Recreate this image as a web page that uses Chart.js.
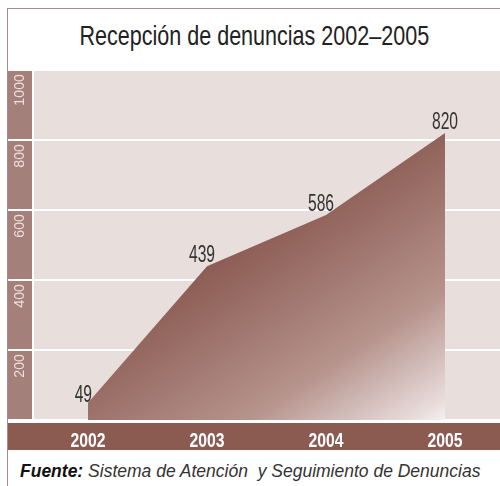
<!DOCTYPE html>
<html>
<head>
<meta charset="utf-8">
<script src="https://cdn.jsdelivr.net/npm/chart.js@4.4.0/dist/chart.umd.min.js"></script>
<style>
  body { margin: 0; background: #fff; width: 500px; height: 486px; overflow: hidden; position: relative; font-family: 'Liberation Sans', Arial, sans-serif; }
  #marco { position: absolute; left: 7px; top: 8px; width: 493px; height: 478px; border-left: 1px solid #a88e88; border-top: 1px solid #a88e88; }
  #titulo { position: absolute; left: 8px; top: 9px; width: 492px; height: 54px; line-height: 54px; text-align: center; font-size: 28px; color: #222; }
  #titulo span { display: inline-block; transform-origin: 50% 50%; white-space: nowrap; }
  #caja { position: absolute; left: 8px; top: 60px; width: 492px; height: 390px; }
  #fuente { position: absolute; left: 20px; top: 461px; font-size: 17.5px; font-style: italic; color: #333; white-space: pre; }
  #fuente b { color: #111; }
</style>
</head>
<body>
<div id="marco"></div>
<div id="titulo"><span id="tituloTexto">Recepción de denuncias 2002–2005</span></div>
<div id="caja"><canvas id="grafico" width="492" height="390"></canvas></div>
<div id="fuente"><b>Fuente:</b> Sistema de Atención  y Seguimiento de Denuncias</div>

<script>
// Datos
const anos = [2002, 2003, 2004, 2005];
const denuncias = [49, 439, 586, 820];
const marcasY = [200, 400, 600, 800, 1000];

// título en letra condensada: se comprime horizontalmente
const spanTitulo = document.getElementById('tituloTexto');
spanTitulo.style.transform = 'scaleX(' + (350 / spanTitulo.offsetWidth) + ')';

// texto comprimido en el canvas
function textoAngosto(ctx, texto, x, y, escala, alinear) {
    ctx.save();
    ctx.translate(x, y);
    ctx.scale(escala, 1);
    ctx.textAlign = alinear;
    ctx.fillText(texto, 0, 0);
    ctx.restore();
}

// Fondo del área, banda izquierda y banda inferior + etiquetas
const decoracion = {
    id: 'decoracion',
    beforeDraw(chart) {
        const { ctx, chartArea: a } = chart;
        ctx.save();
        ctx.fillStyle = '#e8dedb';
        ctx.fillRect(a.left, a.top, a.right - a.left, a.bottom - a.top);
        ctx.fillStyle = '#a57f79';
        ctx.fillRect(0, a.top, a.left - 2, a.bottom - a.top);
        ctx.fillStyle = '#8b5a51';
        ctx.fillRect(0, a.bottom + 3, chart.width, chart.height - a.bottom - 3);
        ctx.restore();
    },
    afterDatasetsDraw(chart) {
        const { ctx } = chart;
        const puntos = chart.getDatasetMeta(0).data;
        ctx.save();
        ctx.fillStyle = '#333';
        ctx.font = '23px "Liberation Sans", Arial, sans-serif';
        ctx.textBaseline = 'alphabetic';
        puntos.forEach((p, i) => {
            const texto = String(denuncias[i]);
            if (i === 0) {
                textoAngosto(ctx, texto, p.x + 4, p.y - 1, 0.68, 'right');
            } else if (i === puntos.length - 1) {
                textoAngosto(ctx, texto, p.x, p.y - 4, 0.68, 'center');
            } else {
                textoAngosto(ctx, texto, p.x - 5, p.y - 4, 0.68, 'center');
            }
        });
        ctx.restore();
    },
    afterDraw(chart) {
        const { ctx, chartArea: a, scales: { x, y } } = chart;
        ctx.save();
        // etiquetas del eje y, giradas
        ctx.fillStyle = '#ecdfdc';
        ctx.font = '15px "Liberation Sans", Arial, sans-serif';
        ctx.textBaseline = 'middle';
        marcasY.forEach(v => {
            ctx.save();
            ctx.translate(12, y.getPixelForValue(v) + 4);
            ctx.rotate(-Math.PI / 2);
            textoAngosto(ctx, String(v), 0, 0, 0.95, 'right');
            ctx.restore();
        });
        // etiquetas del eje x
        ctx.fillStyle = '#fff';
        ctx.font = 'bold 21px "Liberation Sans", Arial, sans-serif';
        ctx.textBaseline = 'alphabetic';
        anos.forEach(v => {
            textoAngosto(ctx, String(v), x.getPixelForValue(v), a.bottom + 27, 0.75, 'center');
        });
        ctx.restore();
    }
};

function degradado(context) {
    const chart = context.chart;
    const a = chart.chartArea;
    if (!a) return '#8b5a51';
    const x = chart.scales.x, y = chart.scales.y;
    const x1 = x.getPixelForValue(anos[anos.length - 1]);
    const y1 = y.getPixelForValue(0);
    const g = chart.ctx.createLinearGradient(x1 - 145, y1 - 222, x1, y1);
    g.addColorStop(0, '#8a5a51');
    g.addColorStop(0.26, '#9d736b');
    g.addColorStop(0.59, '#b6938c');
    g.addColorStop(0.93, '#e8dcdb');
    g.addColorStop(1, '#f6f1f1');
    return g;
}

new Chart(document.getElementById('grafico'), {
    type: 'line',
    data: {
        datasets: [{
            data: anos.map((a, i) => ({ x: a, y: denuncias[i] })),
            fill: 'origin',
            backgroundColor: degradado,
            borderWidth: 0,
            pointRadius: 0,
            tension: 0
        }]
    },
    options: {
        responsive: false,
        devicePixelRatio: 1,
        animation: false,
        layout: { padding: { top: 10, left: 0, right: 0, bottom: 0 } },
        plugins: { legend: { display: false }, tooltip: { enabled: false } },
        scales: {
            x: {
                type: 'linear',
                min: 2001.546,
                max: 2005.462,
                afterBuildTicks(scale) { scale.ticks = anos.map(v => ({ value: v })); },
                afterFit(scale) { scale.height = 30; },
                grid: { display: false, drawTicks: false },
                border: { display: false },
                ticks: { display: false }
            },
            y: {
                min: 0,
                max: 1000,
                afterBuildTicks(scale) { scale.ticks = [0].concat(marcasY).map(v => ({ value: v })); },
                afterFit(scale) { scale.width = 26; },
                grid: { color: '#fff', lineWidth: 2, drawTicks: true, tickLength: 26, tickColor: '#fff' },
                border: { display: false },
                ticks: { display: false }
            }
        }
    },
    plugins: [decoracion]
});
</script>
</body>
</html>
